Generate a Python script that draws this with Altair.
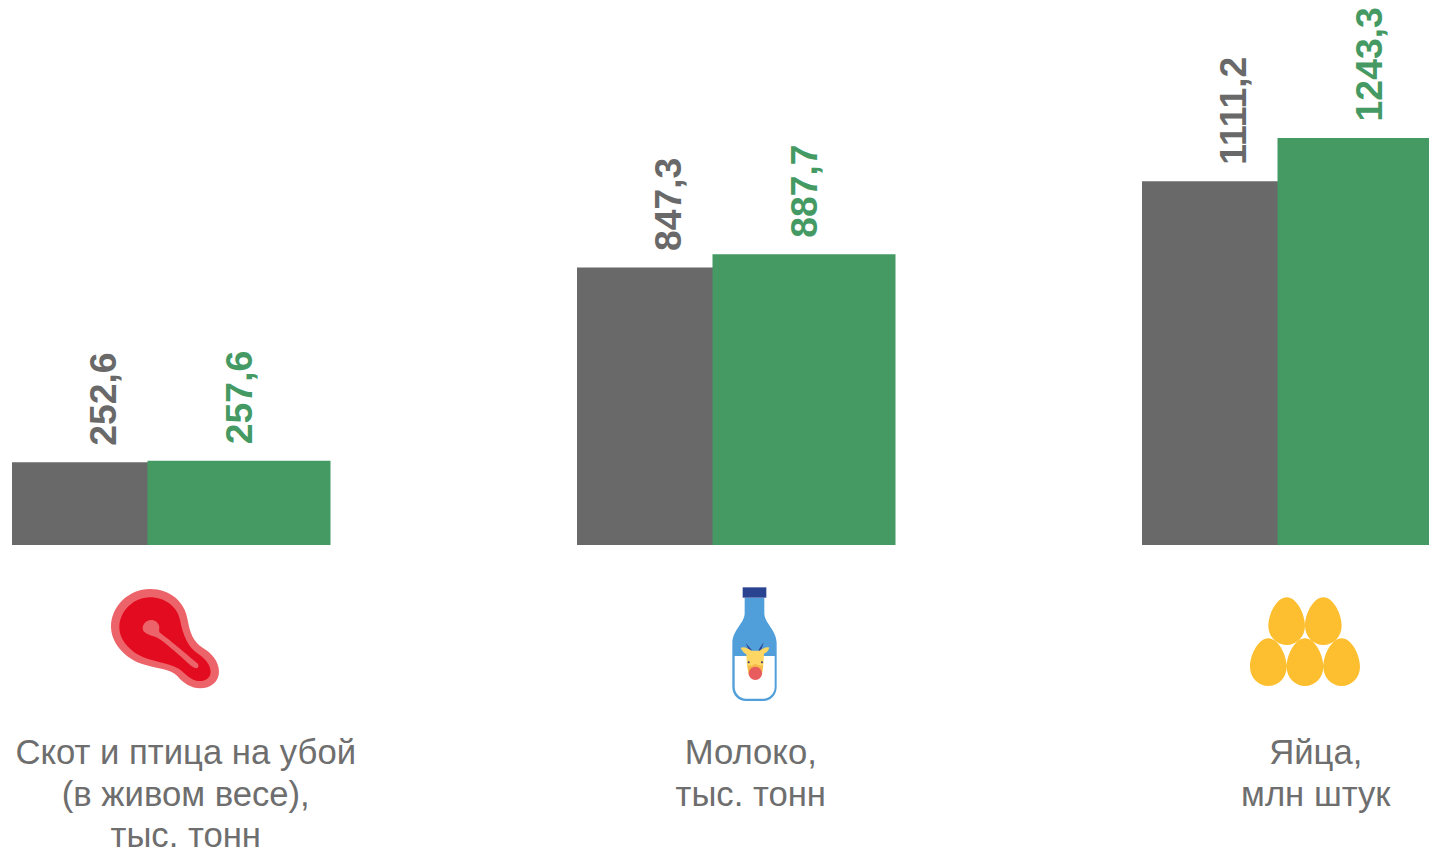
import altair as alt
import pandas as pd

categories = ["meat", "milk", "eggs"]
labels = ["Скот и птица на убой\n(в живом весе),\nтыс. тонн", "Молоко,\nтыс. тонн", "Яйца,\nмлн штук"]
prev_values = [252.6, 847.3, 1111.2]
curr_values = [257.6, 887.7, 1243.3]
prev_text = ["252,6", "847,3", "1111,2"]
curr_text = ["257,6", "887,7", "1243,3"]

GRAY = "#696969"
GREEN = "#459A64"
FONT = "Liberation Sans"

df = pd.DataFrame({"category": categories, "label": labels, "prev": prev_values, "curr": curr_values,
                   "prev_text": prev_text, "curr_text": curr_text})

X = alt.X("category:N", axis=None, sort=categories,
          scale=alt.Scale(type="point", domain=categories, range=[163.25, 1293.25], padding=0))


def Y(field):
    return alt.Y(f"{field}:Q", axis=None, scale=alt.Scale(domain=[0, 1640], range=[537, 0], nice=False))


def bars(field, color, offset):
    return alt.Chart(df).mark_bar(size=183, color=color, xOffset=offset, cornerRadius=0).encode(x=X, y=Y(field))


def values(field, text, color, offset):
    return alt.Chart(df).mark_text(
        angle=270, align="left", baseline="middle", dx=16.5, xOffset=offset + 1.5,
        font=FONT, fontSize=37.33, fontWeight="bold", color=color,
    ).encode(x=X, y=Y(field), text=f"{text}:N")


def icon(category, path, color, offset, top):
    # path coordinates are 3x screen pixels; size 4/9 gives a scale of 1/3
    return alt.Chart(df[df.category == category]).mark_point(
        shape=path, size=4 / 9, filled=True, color=color, opacity=1, strokeWidth=0, xOffset=offset,
    ).encode(x=X, y=alt.value(top))


MEAT_OUTER = ("M180 57 C115 57 63 110 63 170 C63 215 100 260 150 280 C195 297 240 295 262 318 "
              "C280 340 305 355 330 355 C362 355 387 335 387 305 C387 275 365 250 340 235 "
              "C310 215 300 190 293 150 C285 95 240 57 180 57 Z")
MEAT_INNER = ("M180 82 C130 82 88 125 88 172 C88 210 120 245 160 262 C205 280 250 280 278 305 "
              "C295 322 312 333 330 333 C350 333 362 320 362 305 C362 285 345 265 325 252 "
              "C295 232 280 200 270 150 C262 110 225 82 180 82 Z")
MEAT_BONE = ("M183 150 C170 150 158 162 158 175 C158 188 175 195 195 200 C215 208 245 235 275 262 "
             "C292 278 305 292 318 295 C326 296 328 285 322 280 C300 262 245 215 212 190 "
             "C205 185 208 175 208 170 C205 158 195 150 183 150 Z")

BOTTLE_CAP = "M128 37 L199 37 L199 68 L128 68 Z"
BOTTLE_BODY = ("M134 68 L193 68 L193 115 C193 145 230 165 230 205 L230 335 C230 360 212 378 190 378 "
               "L138 378 C115 378 97 360 97 335 L97 205 C97 165 134 145 134 115 Z")
BOTTLE_MILK = "M104 243 L224 243 L224 335 C224 355 208 371 190 371 L138 371 C120 371 104 355 104 335 Z"
COW_HORNS = "M137 204 L156 226 L149 230 Z M191 202 L175 226 L182 230 Z"
COW_HEAD = ("M122 219 C132 213 145 222 155 227 L178 227 C188 222 198 213 208 218 C204 230 198 234 192 236 "
            "L190 272 L186 300 L146 300 L141 272 L139 238 C132 234 126 228 122 219 Z")
COW_MUZZLE = "M143 272 C152 274 160 270 166 266 C172 270 180 274 189 272 L186 290 L146 290 Z"
COW_SNOUT = "M146 295 C146 284 155 275 166 275 C177 275 186 284 186 295 C186 306 177 315 166 315 C155 315 146 306 146 295 Z"
COW_EYES = ("M143 262 A3 3 0 1 0 149 262 A3 3 0 1 0 143 262 Z "
            "M183 262 A3 3 0 1 0 189 262 A3 3 0 1 0 183 262 Z")


def egg(x, y):
    return (f"M{x} {y} C{x+30} {y} {x+55} {y+50} {x+55} {y+85} C{x+55} {y+118} {x+30} {y+143} {x} {y+143} "
            f"C{x-30} {y+143} {x-55} {y+118} {x-55} {y+85} C{x-55} {y+50} {x-30} {y} {x} {y} Z")


EGGS = " ".join(egg(x, y) for x, y in [(155, 37), (265, 37), (100, 160), (210, 160), (320, 160)])

text_labels = alt.Chart(df).mark_text(
    font=FONT, fontSize=34.67, color="#6E6E6E", align="center", baseline="top", lineBreak="\n", lineHeight=41.5, dx=14.5,
).encode(x=X, y=alt.value(729), text="label:N")

chart = alt.layer(
    bars("prev", GRAY, -67.75),
    bars("curr", GREEN, 67.75),
    values("prev", "prev_text", GRAY, -67.75),
    values("curr", "curr_text", GREEN, 67.75),
    text_labels,
    icon("meat", MEAT_OUTER, "#EC6469", -81.25, 562),
    icon("meat", MEAT_INNER, "#E30B20", -81.25, 562),
    icon("meat", MEAT_BONE, "#EC6469", -81.25, 562),
    icon("milk", BOTTLE_BODY, "#519FDA", -36.25, 567),
    icon("milk", BOTTLE_MILK, "#FFFFFF", -36.25, 567),
    icon("milk", BOTTLE_CAP, "#2A4390", -36.25, 567),
    icon("milk", COW_HORNS, "#2A4390", -36.25, 567),
    icon("milk", COW_HEAD, "#FDD663", -36.25, 567),
    icon("milk", COW_MUZZLE, "#F5B94A", -36.25, 567),
    icon("milk", COW_SNOUT, "#E85C5E", -36.25, 567),
    icon("milk", COW_EYES, "#3A3F6B", -36.25, 567),
    icon("eggs", EGGS, "#FDBF2F", -66.25, 577),
).properties(
    width=1421, height=844, padding=0, background="white",
    autosize=alt.AutoSizeParams(type="none"),
).configure_view(stroke=None)

chart.save("out.html", embed_options={"renderer": "svg", "actions": False})
